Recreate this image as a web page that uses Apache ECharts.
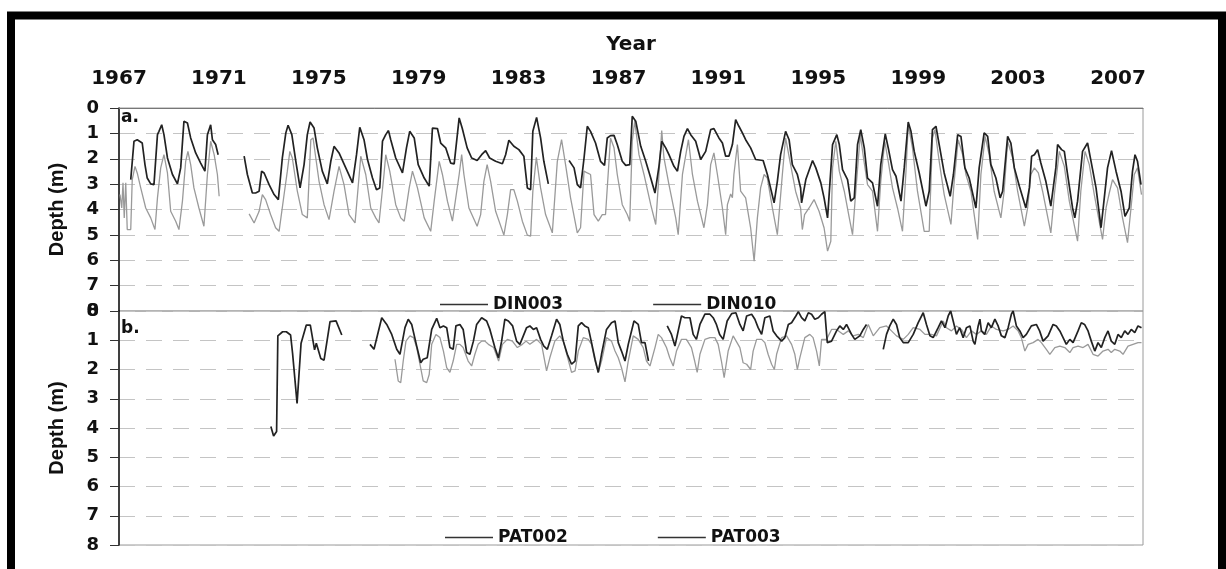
<!DOCTYPE html>
<html><head><meta charset="utf-8">
<script src="https://cdn.jsdelivr.net/npm/echarts@6/dist/echarts.min.js"></script>
<style>html,body{margin:0;padding:0;background:#fff}#c{width:1226px;height:569px}</style>
</head><body><div id="c"></div>
<script>
// ---- data: [year, depth (m)], null = gap ----
const YEAR_START = 1967;
const YEAR_END = 2008;
const yearTickStep = 4;
const depthTicks = [0, 1, 2, 3, 4, 5, 6, 7, 8];

const din003 = [
[1967.04,3.41],[1967.11,3.94],[1967.16,2.95],[1967.21,4.33],[1967.27,2.95],[1967.33,4.79],[1967.47,4.79],[1967.53,2.82],[1967.64,2.30],[1967.73,2.56],[1967.87,3.15],[1968.07,3.94],[1968.27,4.33],[1968.44,4.79],[1968.54,3.54],[1968.67,2.36],[1968.80,1.84],[1968.94,2.56],[1969.07,4.07],[1969.27,4.46],[1969.40,4.79],[1969.54,3.67],[1969.67,2.10],[1969.76,1.71],[1969.87,2.23],[1970.00,3.15],[1970.20,3.94],[1970.40,4.66],[1970.54,2.62],[1970.67,1.31],[1970.81,1.84],[1970.94,2.62],[1971.01,3.48],[1971.6,null],
[1972.21,4.17],[1972.41,4.53],[1972.61,4.07],[1972.74,3.41],[1972.87,3.61],[1973.07,4.20],[1973.27,4.72],[1973.41,4.86],[1973.61,3.41],[1973.74,2.49],[1973.84,1.71],[1973.94,1.97],[1974.14,3.28],[1974.34,4.20],[1974.54,4.33],[1974.68,1.25],[1974.77,1.18],[1974.88,1.97],[1975.01,2.89],[1975.21,3.81],[1975.41,4.40],[1975.61,3.28],[1975.81,2.30],[1976.01,3.02],[1976.21,4.20],[1976.45,4.53],[1976.55,3.41],[1976.68,1.90],[1976.88,2.62],[1977.08,3.94],[1977.28,4.33],[1977.41,4.53],[1977.61,2.62],[1977.68,1.84],[1977.84,2.49],[1978.08,3.81],[1978.28,4.33],[1978.42,4.46],[1978.62,3.15],[1978.75,2.49],[1978.95,3.15],[1979.22,4.33],[1979.48,4.86],[1979.62,3.67],[1979.82,2.10],[1979.95,2.62],[1980.15,3.67],[1980.35,4.46],[1980.62,2.62],[1980.72,1.84],[1980.81,2.62],[1981.01,3.94],[1981.34,4.66],[1981.48,4.20],[1981.61,2.89],[1981.74,2.23],[1981.88,2.89],[1982.08,4.07],[1982.41,5.01],[1982.55,4.20],[1982.68,3.22],[1982.81,3.22],[1982.95,3.67],[1983.15,4.46],[1983.35,5.01],[1983.48,5.05],[1983.57,3.28],[1983.71,1.94],[1983.88,3.15],[1984.08,4.20],[1984.35,4.92],[1984.55,2.10],[1984.72,1.25],[1984.88,2.23],[1985.08,3.54],[1985.35,4.92],[1985.48,4.72],[1985.62,2.49],[1985.75,2.56],[1985.88,2.62],[1986.02,4.20],[1986.19,4.46],[1986.35,4.20],[1986.48,4.20],[1986.68,1.18],[1986.82,1.57],[1986.95,2.62],[1987.15,3.81],[1987.35,4.20],[1987.45,4.46],[1987.55,1.31],[1987.65,0.52],[1987.82,1.84],[1988.02,2.62],[1988.29,3.81],[1988.49,4.59],[1988.62,2.62],[1988.73,0.89],[1988.82,1.97],[1989.02,3.02],[1989.29,4.33],[1989.39,4.99],[1989.56,2.62],[1989.80,1.25],[1989.96,2.62],[1990.16,3.67],[1990.42,4.72],[1990.56,3.81],[1990.69,2.23],[1990.82,1.77],[1990.96,2.62],[1991.16,3.94],[1991.29,4.99],[1991.36,3.81],[1991.49,3.39],[1991.56,3.54],[1991.62,2.62],[1991.76,1.44],[1991.89,3.28],[1992.09,3.54],[1992.29,4.72],[1992.43,6.04],[1992.56,4.33],[1992.69,3.15],[1992.83,2.62],[1992.96,2.76],[1993.16,3.94],[1993.36,4.99],[1993.56,2.62],[1993.69,1.18],[1993.89,2.23],[1994.09,3.28],[1994.29,3.94],[1994.36,4.79],[1994.45,4.20],[1994.63,3.94],[1994.83,3.61],[1995.03,4.07],[1995.23,4.72],[1995.37,5.64],[1995.50,5.25],[1995.57,2.36],[1995.70,1.31],[1995.84,2.49],[1996.04,3.28],[1996.24,4.33],[1996.37,4.99],[1996.50,3.28],[1996.68,1.05],[1996.81,1.97],[1996.97,3.02],[1997.17,3.28],[1997.37,4.86],[1997.50,2.89],[1997.66,1.31],[1997.80,2.10],[1997.97,3.15],[1998.17,3.94],[1998.37,4.86],[1998.51,2.49],[1998.60,0.66],[1998.77,1.57],[1998.97,3.28],[1999.24,4.86],[1999.44,4.86],[1999.57,1.18],[1999.67,0.85],[1999.84,2.10],[2000.04,3.41],[2000.31,4.59],[2000.44,2.89],[2000.60,1.25],[2000.78,1.84],[2000.91,2.62],[2001.11,3.28],[2001.38,5.18],[2001.51,2.62],[2001.68,1.12],[2001.84,1.84],[2002.04,3.28],[2002.31,4.33],[2002.44,3.28],[2002.58,1.31],[2002.78,1.97],[2002.98,3.28],[2003.25,4.66],[2003.38,3.94],[2003.51,2.62],[2003.65,2.36],[2003.81,2.56],[2003.98,3.28],[2004.31,4.92],[2004.45,3.41],[2004.65,1.71],[2004.85,2.30],[2005.05,3.67],[2005.38,5.25],[2005.51,3.28],[2005.68,1.71],[2005.85,2.23],[2006.05,3.41],[2006.38,5.18],[2006.52,3.94],[2006.65,3.35],[2006.78,2.82],[2006.98,3.15],[2007.18,4.33],[2007.38,5.31],[2007.52,3.94],[2007.65,2.62],[2007.78,2.36],[2007.94,3.41]
];

const din010 = [
[1967.47,2.82],[1967.60,1.31],[1967.73,1.25],[1967.93,1.38],[1968.04,2.23],[1968.13,2.76],[1968.27,2.99],[1968.40,3.02],[1968.54,1.05],[1968.60,0.92],[1968.71,0.66],[1968.80,1.05],[1968.94,1.97],[1969.14,2.62],[1969.34,2.99],[1969.47,2.36],[1969.60,0.52],[1969.74,0.59],[1969.87,1.18],[1970.07,1.77],[1970.27,2.17],[1970.44,2.49],[1970.54,1.05],[1970.67,0.66],[1970.74,1.25],[1970.87,1.44],[1970.97,1.84],[1971.5,null],
[1972.01,1.90],[1972.14,2.62],[1972.34,3.35],[1972.47,3.35],[1972.61,3.28],[1972.71,2.49],[1972.81,2.56],[1973.01,3.02],[1973.21,3.41],[1973.38,3.61],[1973.54,1.97],[1973.68,0.98],[1973.77,0.68],[1973.92,1.05],[1974.08,2.10],[1974.25,3.15],[1974.41,2.23],[1974.54,1.05],[1974.65,0.55],[1974.81,0.79],[1974.94,1.57],[1975.14,2.49],[1975.34,2.99],[1975.48,2.10],[1975.61,1.51],[1975.81,1.77],[1976.08,2.36],[1976.35,2.95],[1976.51,1.84],[1976.64,0.76],[1976.81,1.25],[1976.95,2.03],[1977.15,2.76],[1977.31,3.22],[1977.44,3.15],[1977.55,1.31],[1977.68,1.05],[1977.79,0.89],[1977.88,1.25],[1978.08,1.97],[1978.35,2.56],[1978.51,1.57],[1978.64,0.92],[1978.82,1.18],[1978.98,2.23],[1979.22,2.76],[1979.42,3.08],[1979.55,0.79],[1979.75,0.81],[1979.88,1.38],[1980.08,1.57],[1980.28,2.17],[1980.42,2.20],[1980.62,0.39],[1980.74,0.79],[1980.94,1.57],[1981.12,1.97],[1981.34,2.07],[1981.52,1.84],[1981.68,1.68],[1981.84,1.97],[1982.08,2.10],[1982.35,2.20],[1982.48,1.84],[1982.61,1.27],[1982.81,1.51],[1983.01,1.64],[1983.21,1.90],[1983.35,3.15],[1983.48,3.22],[1983.57,0.92],[1983.72,0.37],[1983.88,1.18],[1984.01,2.10],[1984.19,2.99],[1984.6,null],
[1985.02,2.07],[1985.22,2.36],[1985.35,3.02],[1985.48,3.15],[1985.62,1.97],[1985.75,0.72],[1985.88,0.92],[1986.08,1.38],[1986.28,2.10],[1986.44,2.26],[1986.55,1.18],[1986.68,1.09],[1986.82,1.08],[1986.95,1.44],[1987.15,2.10],[1987.29,2.26],[1987.45,2.23],[1987.55,0.33],[1987.69,0.52],[1987.89,1.51],[1988.09,2.10],[1988.29,2.76],[1988.46,3.35],[1988.62,2.30],[1988.73,1.31],[1988.89,1.57],[1989.02,1.84],[1989.22,2.30],[1989.36,2.49],[1989.49,1.71],[1989.62,1.12],[1989.76,0.81],[1989.89,1.05],[1990.09,1.31],[1990.29,2.03],[1990.49,1.71],[1990.69,0.85],[1990.82,0.81],[1991.02,1.18],[1991.16,1.38],[1991.29,1.90],[1991.42,1.90],[1991.56,1.44],[1991.69,0.46],[1991.82,0.72],[1991.96,0.98],[1992.09,1.25],[1992.29,1.57],[1992.49,2.03],[1992.79,2.07],[1992.96,2.62],[1993.23,3.74],[1993.36,2.89],[1993.49,1.84],[1993.69,0.92],[1993.83,1.25],[1993.96,2.23],[1994.16,2.62],[1994.29,3.15],[1994.33,3.74],[1994.50,2.82],[1994.77,2.07],[1994.90,2.36],[1995.10,2.95],[1995.23,3.54],[1995.37,4.33],[1995.57,1.44],[1995.74,1.05],[1995.84,1.44],[1995.97,2.43],[1996.17,2.82],[1996.30,3.67],[1996.44,3.54],[1996.57,1.44],[1996.70,0.85],[1996.84,1.57],[1996.97,2.76],[1997.17,2.95],[1997.37,3.87],[1997.50,2.23],[1997.68,1.02],[1997.80,1.57],[1997.97,2.43],[1998.11,2.69],[1998.31,3.67],[1998.44,2.36],[1998.60,0.55],[1998.71,0.92],[1998.84,1.71],[1999.04,2.56],[1999.31,3.87],[1999.44,3.28],[1999.57,0.85],[1999.71,0.72],[1999.84,1.44],[2000.04,2.56],[2000.28,3.48],[2000.41,2.62],[2000.58,1.05],[2000.71,1.12],[2000.87,2.36],[2001.04,2.76],[2001.31,3.94],[2001.44,2.36],[2001.64,0.98],[2001.78,1.12],[2001.91,2.23],[2002.11,2.76],[2002.28,3.54],[2002.38,3.28],[2002.58,1.12],[2002.71,1.38],[2002.85,2.36],[2003.05,3.08],[2003.31,3.94],[2003.45,3.15],[2003.54,1.90],[2003.65,1.84],[2003.78,1.64],[2003.91,2.17],[2004.11,2.89],[2004.31,3.87],[2004.51,2.36],[2004.58,1.44],[2004.74,1.64],[2004.85,1.71],[2004.98,2.62],[2005.18,3.94],[2005.27,4.33],[2005.38,3.67],[2005.58,1.71],[2005.78,1.38],[2005.92,2.10],[2006.12,3.15],[2006.32,4.72],[2006.45,3.54],[2006.58,2.36],[2006.74,1.68],[2006.92,2.49],[2007.12,3.28],[2007.28,4.27],[2007.45,3.94],[2007.58,2.49],[2007.68,1.84],[2007.78,2.10],[2007.92,3.02]
];

const pat002 = [
[1978.05,1.65],[1978.18,2.39],[1978.28,2.45],[1978.38,1.71],[1978.49,1.03],[1978.65,0.85],[1978.79,0.91],[1978.92,1.25],[1979.05,1.82],[1979.18,2.39],[1979.32,2.45],[1979.42,2.17],[1979.52,1.14],[1979.69,0.80],[1979.85,0.91],[1979.99,1.37],[1980.12,1.94],[1980.25,2.10],[1980.38,1.71],[1980.52,1.14],[1980.65,1.14],[1980.78,1.25],[1980.98,1.71],[1981.12,1.88],[1981.25,1.48],[1981.38,1.14],[1981.52,1.03],[1981.65,1.03],[1981.79,1.14],[1982.00,1.25],[1982.20,1.71],[1982.35,1.14],[1982.55,0.97],[1982.75,1.03],[1982.95,1.25],[1983.15,1.14],[1983.30,1.03],[1983.45,1.14],[1983.72,0.97],[1983.92,1.14],[1984.12,2.05],[1984.25,1.60],[1984.45,1.03],[1984.65,0.85],[1984.79,1.03],[1985.00,1.71],[1985.12,2.10],[1985.26,2.05],[1985.39,1.37],[1985.59,0.91],[1985.79,0.97],[1985.92,1.14],[1986.06,1.71],[1986.19,2.10],[1986.32,1.71],[1986.52,0.91],[1986.72,1.03],[1986.86,1.37],[1986.99,1.60],[1987.12,1.94],[1987.26,2.42],[1987.39,1.71],[1987.59,0.85],[1987.79,0.97],[1987.99,1.25],[1988.12,1.71],[1988.26,1.88],[1988.46,1.25],[1988.59,0.80],[1988.72,0.91],[1988.92,1.25],[1989.05,1.60],[1989.19,1.88],[1989.32,1.37],[1989.52,0.97],[1989.72,0.97],[1989.92,1.25],[1990.05,1.71],[1990.15,2.10],[1990.26,1.48],[1990.46,0.97],[1990.66,0.91],[1990.86,0.91],[1990.99,1.14],[1991.12,1.71],[1991.23,2.28],[1991.39,1.37],[1991.59,0.85],[1991.86,1.25],[1991.99,1.77],[1992.13,1.82],[1992.29,2.00],[1992.39,1.37],[1992.53,0.97],[1992.73,0.97],[1992.86,1.08],[1992.99,1.48],[1993.13,1.82],[1993.24,2.00],[1993.33,1.48],[1993.53,0.91],[1993.73,0.85],[1993.93,1.14],[1994.06,1.48],[1994.16,2.00],[1994.26,1.60],[1994.46,0.91],[1994.66,0.80],[1994.79,0.91],[1994.93,1.37],[1995.04,1.88],[1995.13,0.97],[1995.33,0.97],[1995.53,0.63],[1995.73,0.63],[1996.00,0.80],[1996.20,0.68],[1996.40,0.85],[1996.60,0.80],[1996.80,0.91],[1997.00,0.46],[1997.20,0.85],[1997.46,0.57],[1997.73,0.51],[1997.93,0.68],[1998.13,0.85],[1998.40,0.97],[1998.60,0.80],[1998.80,0.57],[1999.07,0.63],[1999.27,0.80],[1999.53,0.80],[1999.73,0.85],[2000.00,0.34],[2000.13,0.57],[2000.33,0.68],[2000.53,0.51],[2000.73,0.63],[2000.93,0.91],[2001.13,0.68],[2001.33,0.80],[2001.53,0.68],[2001.73,0.80],[2001.93,0.51],[2002.13,0.63],[2002.40,0.68],[2002.60,0.63],[2002.80,0.51],[2003.00,0.68],[2003.13,0.91],[2003.27,1.37],[2003.40,1.14],[2003.60,1.08],[2003.80,0.97],[2003.93,1.08],[2004.13,1.31],[2004.27,1.48],[2004.47,1.25],[2004.67,1.20],[2004.87,1.25],[2005.07,1.42],[2005.20,1.25],[2005.40,1.20],[2005.60,1.25],[2005.80,1.14],[2006.00,1.48],[2006.20,1.54],[2006.40,1.37],[2006.60,1.31],[2006.73,1.42],[2006.87,1.31],[2007.07,1.37],[2007.20,1.48],[2007.40,1.20],[2007.60,1.14],[2007.80,1.08],[2007.94,1.08]
];

const pat003 = [
[1973.08,3.95],[1973.19,4.27],[1973.31,4.12],[1973.36,0.85],[1973.55,0.71],[1973.70,0.71],[1973.87,0.82],[1973.95,1.45],[1974.13,3.16],[1974.29,1.10],[1974.50,0.48],[1974.66,0.48],[1974.83,1.33],[1974.90,1.10],[1975.08,1.62],[1975.21,1.68],[1975.45,0.36],[1975.69,0.34],[1975.92,0.82],[1976.5,null],
[1977.05,1.14],[1977.21,1.31],[1977.52,0.23],[1977.72,0.46],[1977.92,0.80],[1978.12,1.31],[1978.25,1.48],[1978.45,0.57],[1978.58,0.28],[1978.72,0.46],[1978.92,1.20],[1979.08,1.77],[1979.18,1.65],[1979.34,1.60],[1979.52,0.63],[1979.72,0.25],[1979.85,0.57],[1979.99,0.51],[1980.12,0.57],[1980.25,1.25],[1980.38,1.31],[1980.49,0.51],[1980.65,0.46],[1980.78,0.63],[1980.92,1.42],[1981.05,1.48],[1981.19,1.03],[1981.32,0.46],[1981.52,0.23],[1981.72,0.34],[1981.85,0.63],[1982.05,1.25],[1982.19,1.60],[1982.32,1.03],[1982.45,0.28],[1982.59,0.34],[1982.76,0.51],[1982.92,1.03],[1983.05,1.14],[1983.16,0.91],[1983.32,0.57],[1983.45,0.51],[1983.59,0.63],[1983.72,0.57],[1983.88,0.97],[1984.01,1.20],[1984.15,1.31],[1984.32,0.85],[1984.52,0.28],[1984.65,0.46],[1984.79,1.03],[1984.95,1.48],[1985.12,1.82],[1985.26,1.71],[1985.39,0.51],[1985.52,0.40],[1985.65,0.51],[1985.79,0.57],[1985.92,1.08],[1986.06,1.65],[1986.19,2.10],[1986.32,1.48],[1986.52,0.63],[1986.72,0.40],[1986.86,0.34],[1986.99,1.08],[1987.12,1.37],[1987.26,1.71],[1987.39,1.14],[1987.62,0.34],[1987.79,0.46],[1987.92,1.08],[1988.06,1.08],[1988.20,1.71],[1988.5,null],
[1988.95,0.51],[1989.12,0.80],[1989.26,1.20],[1989.39,0.68],[1989.52,0.17],[1989.66,0.23],[1989.86,0.23],[1989.99,0.80],[1990.12,0.97],[1990.26,0.46],[1990.46,0.11],[1990.66,0.11],[1990.79,0.23],[1990.92,0.46],[1991.05,0.80],[1991.19,0.97],[1991.35,0.34],[1991.53,0.09],[1991.70,0.06],[1991.86,0.46],[1991.99,0.68],[1992.13,0.17],[1992.33,0.11],[1992.46,0.28],[1992.59,0.57],[1992.73,0.80],[1992.86,0.23],[1993.06,0.17],[1993.19,0.68],[1993.33,0.85],[1993.53,1.03],[1993.66,0.91],[1993.80,0.46],[1993.93,0.40],[1994.10,0.17],[1994.20,0.02],[1994.33,0.23],[1994.46,0.34],[1994.60,0.06],[1994.73,0.11],[1994.86,0.28],[1995.00,0.23],[1995.13,0.11],[1995.26,0.02],[1995.36,1.08],[1995.53,1.03],[1995.73,0.68],[1995.86,0.51],[1996.00,0.63],[1996.13,0.46],[1996.33,0.80],[1996.46,0.97],[1996.66,0.85],[1996.80,0.63],[1996.93,0.46],[1997.3,null],
[1997.60,1.31],[1997.73,0.80],[1997.86,0.51],[1998.00,0.28],[1998.13,0.46],[1998.26,0.91],[1998.40,1.08],[1998.60,1.08],[1998.80,0.80],[1999.00,0.40],[1999.20,0.06],[1999.33,0.46],[1999.47,0.85],[1999.60,0.91],[1999.80,0.57],[1999.93,0.34],[2000.07,0.57],[2000.20,0.17],[2000.30,0.00],[2000.40,0.34],[2000.53,0.80],[2000.66,0.57],[2000.80,0.91],[2000.93,0.57],[2001.07,0.51],[2001.20,1.03],[2001.27,1.14],[2001.40,0.51],[2001.47,0.28],[2001.53,0.68],[2001.66,0.80],[2001.80,0.40],[2001.93,0.57],[2002.07,0.28],[2002.20,0.51],[2002.33,0.85],[2002.47,0.91],[2002.60,0.57],[2002.73,0.11],[2002.80,0.00],[2002.93,0.51],[2003.07,0.68],[2003.20,0.91],[2003.33,0.80],[2003.53,0.51],[2003.73,0.46],[2003.86,0.68],[2004.00,1.03],[2004.20,0.85],[2004.40,0.46],[2004.53,0.51],[2004.67,0.68],[2004.80,0.91],[2004.93,1.14],[2005.07,0.97],[2005.20,1.08],[2005.40,0.68],[2005.53,0.40],[2005.66,0.46],[2005.80,0.68],[2005.93,1.03],[2006.07,1.37],[2006.20,1.08],[2006.33,1.25],[2006.47,0.91],[2006.60,0.68],[2006.73,1.03],[2006.87,1.14],[2007.00,0.80],[2007.13,0.91],[2007.27,0.68],[2007.40,0.80],[2007.53,0.63],[2007.67,0.74],[2007.80,0.51],[2007.94,0.57]
];

const seriesNamesA = ['DIN003', 'DIN010'];
const seriesNamesB = ['PAT002', 'PAT003'];

// ---- chart ----
const FONT = 'DejaVu Sans';
const GRAY = '#9a9a9a';
const DARK = '#222';
const toXY = arr => arr.map(([yr, d]) => [yr - YEAR_START, d === null ? '-' : d]);
const chart = echarts.init(document.getElementById('c'), null, {renderer: 'canvas'});

function yAxisCfg(gi) {
  return {
    gridIndex: gi, type: 'value', inverse: true,
    min: depthTicks[0], max: depthTicks[depthTicks.length - 1], interval: 1,
    name: 'Depth (m)', nameLocation: 'middle', nameRotate: 90, nameGap: 52,
    nameTextStyle: {fontFamily: 'Liberation Sans', fontWeight: 'bold', fontSize: 20, color: '#111'},
    axisLine: {show: true, lineStyle: {color: '#111', width: 1.5}},
    axisTick: {show: true, length: 9, lineStyle: {color: '#333', width: 1}},
    axisLabel: {margin: 20, fontFamily: FONT, fontWeight: 'bold', fontSize: 18, color: '#111'},
    splitLine: {show: true, lineStyle: {type: [16, 11], color: '#c4c4c4', width: 1}}
  };
}
const legendText = {fontFamily: FONT, fontWeight: 'bold', fontSize: 17, color: '#111'};
function legendCfg(names, left, top) {
  return {data: names.map(n => ({name: n, icon: 'rect', itemStyle: {color: '#333'}})),
          left: left, top: top, itemWidth: 48, itemHeight: 1.5, itemGap: 90, textStyle: legendText};
}

const option = {
  animation: false,
  backgroundColor: '#fff',
  grid: [
    {left: 119, top: 108, width: 1024, height: 203, show: true, borderColor: '#9a9a9a', borderWidth: 1},
    {left: 119, top: 311, width: 1024, height: 234, show: true, borderColor: '#9a9a9a', borderWidth: 1}
  ],
  xAxis: [
    {gridIndex: 0, type: 'value', position: 'top', min: 0, max: YEAR_END - YEAR_START, interval: yearTickStep,
     name: 'Year', nameLocation: 'middle', nameGap: 53,
     nameTextStyle: {fontFamily: FONT, fontWeight: 'bold', fontSize: 20, color: '#111'},
     axisLine: {show: true, lineStyle: {color: '#777', width: 1}},
     axisTick: {show: false}, splitLine: {show: false},
     axisLabel: {formatter: v => String(v + YEAR_START), showMaxLabel: false, margin: 19,
                 fontFamily: FONT, fontWeight: 'bold', fontSize: 20, color: '#111'}},
    {gridIndex: 1, type: 'value', min: 0, max: YEAR_END - YEAR_START, interval: yearTickStep, show: false}
  ],
  yAxis: [yAxisCfg(0), yAxisCfg(1)],
  legend: [legendCfg(seriesNamesA, 435, 291), legendCfg(seriesNamesB, 440, 524)],
  series: [
    {name: 'DIN003', type: 'line', xAxisIndex: 0, yAxisIndex: 0, data: toXY(din003), symbol: 'none',
     connectNulls: false, color: GRAY, lineStyle: {color: GRAY, width: 1.3}},
    {name: 'DIN010', type: 'line', xAxisIndex: 0, yAxisIndex: 0, data: toXY(din010), symbol: 'none',
     connectNulls: false, color: DARK, lineStyle: {color: DARK, width: 1.7}},
    {name: 'PAT002', type: 'line', xAxisIndex: 1, yAxisIndex: 1, data: toXY(pat002), symbol: 'none',
     connectNulls: false, color: GRAY, lineStyle: {color: GRAY, width: 1.3}},
    {name: 'PAT003', type: 'line', xAxisIndex: 1, yAxisIndex: 1, data: toXY(pat003), symbol: 'none',
     connectNulls: false, color: DARK, lineStyle: {color: DARK, width: 1.7}}
  ],
  graphic: [
    {type: 'text', left: 121, top: 109, silent: true,
     style: {text: 'a.', fontFamily: FONT, fontWeight: 'bold', fontSize: 17, fill: '#111'}},
    {type: 'text', left: 121, top: 320, silent: true,
     style: {text: 'b.', fontFamily: FONT, fontWeight: 'bold', fontSize: 17, fill: '#111'}},
    {type: 'rect', silent: true, z: 100,
     shape: {x: 11, y: 15.5, width: 1211, height: 700},
     style: {fill: 'transparent', stroke: '#000', lineWidth: 8}}
  ]
};
chart.setOption(option);
</script>
</body></html>
